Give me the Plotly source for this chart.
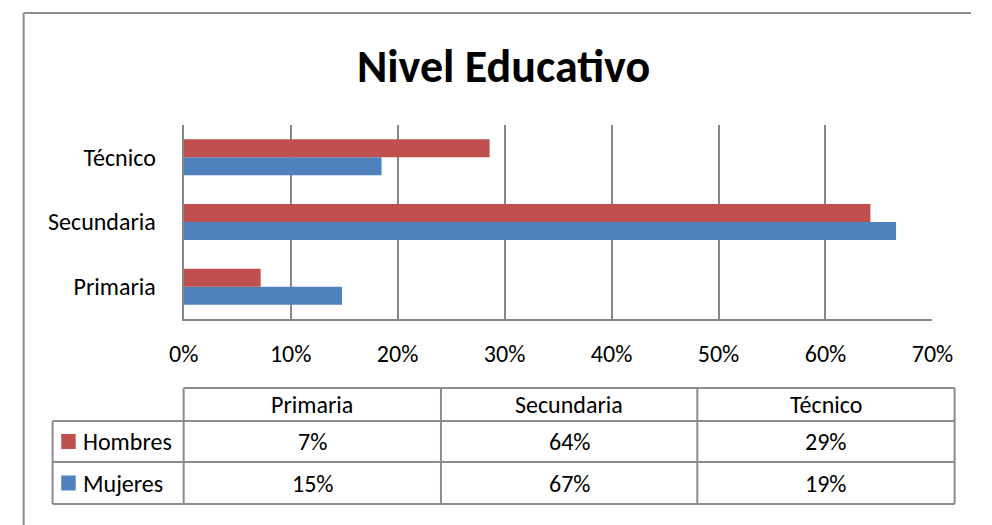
import plotly.graph_objects as go

categories = ["Primaria", "Secundaria", "Técnico"]
hombres = [0.072, 0.642, 0.286]
mujeres = [0.148, 0.666, 0.185]
hombres_labels = ["7%", "64%", "29%"]
mujeres_labels = ["15%", "67%", "19%"]
series_names = ["Hombres", "Mujeres"]
title_text = "Nivel Educativo"

RED = "#C0504D"
BLUE = "#4F81BD"
GRID = "#878787"
FONT = "Carlito, Calibri, Lato, sans-serif"

W, H = 992, 525


def px(x):
    return x / W


def py(y):
    return 1 - y / H


fig = go.Figure()
fig.add_trace(go.Bar(y=categories, x=mujeres, name=series_names[1], orientation="h",
                     marker=dict(color=BLUE, line=dict(width=0))))
fig.add_trace(go.Bar(y=categories, x=hombres, name=series_names[0], orientation="h",
                     marker=dict(color=RED, line=dict(width=0))))

shapes = []
annotations = []

# outer chart border (top and left edges visible in the frame)
border = dict(color="#8c8c8c", width=2)
shapes.append(dict(type="line", xref="paper", yref="paper", x0=px(9), x1=1, y0=py(13), y1=py(13), line=border))
shapes.append(dict(type="line", xref="paper", yref="paper", x0=px(9), x1=px(9), y0=py(13), y1=0, line=border))

# data table grid
col_x = [175, 442, 708, 975]
left_x = 39
row_y = [388, 421, 462, 504]
line = dict(color="#8c8c8c", width=2)
shapes.append(dict(type="line", xref="paper", yref="paper", x0=px(col_x[0]), x1=px(col_x[-1]), y0=py(row_y[0]), y1=py(row_y[0]), line=line))
for yy in row_y[1:]:
    shapes.append(dict(type="line", xref="paper", yref="paper", x0=px(left_x), x1=px(col_x[-1]), y0=py(yy), y1=py(yy), line=line))
shapes.append(dict(type="line", xref="paper", yref="paper", x0=px(left_x), x1=px(left_x), y0=py(row_y[1]), y1=py(row_y[-1]), line=line))
for xx in col_x:
    shapes.append(dict(type="line", xref="paper", yref="paper", x0=px(xx), x1=px(xx), y0=py(row_y[0]), y1=py(row_y[-1]), line=line))

tfont = dict(family=FONT, size=24, color="#000000")
for i, c in enumerate(categories):
    annotations.append(dict(xref="paper", yref="paper", x=px((col_x[i] + col_x[i + 1]) / 2),
                            y=py((row_y[0] + row_y[1]) / 2), text=c, showarrow=False,
                            font=tfont, xanchor="center", yanchor="middle"))
rows = [(series_names[0], RED, hombres_labels), (series_names[1], BLUE, mujeres_labels)]
for r, (name, col, labs) in enumerate(rows):
    yc = (row_y[r + 1] + row_y[r + 2]) / 2
    shapes.append(dict(type="rect", xref="paper", yref="paper", x0=px(48), x1=px(63),
                       y0=py(yc - 7.5), y1=py(yc + 7.5), fillcolor=col, line=dict(width=0)))
    annotations.append(dict(xref="paper", yref="paper", x=px(68), y=py(yc), text=name,
                            showarrow=False, font=tfont, xanchor="left", yanchor="middle"))
    for i, t in enumerate(labs):
        annotations.append(dict(xref="paper", yref="paper", x=px((col_x[i] + col_x[i + 1]) / 2),
                                y=py(yc), text=t, showarrow=False, font=tfont,
                                xanchor="center", yanchor="middle"))

annotations.append(dict(xref="paper", yref="paper", x=px(507), y=py(66), text="<b>" + title_text + "</b>",
                        showarrow=False, font=dict(family=FONT, size=46, color="#000000"),
                        xanchor="center", yanchor="middle"))

fig.update_layout(
    width=W, height=H,
    margin=dict(l=0, r=0, t=0, b=0),
    paper_bgcolor="white", plot_bgcolor="white",
    barmode="group", bargap=0.443, bargroupgap=0,
    showlegend=False,
    shapes=shapes, annotations=annotations,
    xaxis=dict(domain=[px(175), px(952)], range=[0, 0.7], dtick=0.1, tick0=0,
               tickformat=".0%", showgrid=True, gridcolor=GRID, gridwidth=2,
               showline=True, linecolor=GRID, linewidth=2, zeroline=False,
               ticks="", ticklabelstandoff=12,
               tickfont=dict(family=FONT, size=24, color="#000000"), fixedrange=True),
    yaxis=dict(domain=[py(319), py(125)], range=[-0.5, 2.5],
               showline=True, linecolor=GRID, linewidth=2, showgrid=False,
               ticks="", ticklabelstandoff=21,
               tickfont=dict(family=FONT, size=24, color="#000000"), fixedrange=True),
    font=dict(family=FONT),
)

fig.write_html("out.html", config={"displayModeBar": False},
               post_script="document.body.style.margin='0';document.body.style.overflow='hidden';")
